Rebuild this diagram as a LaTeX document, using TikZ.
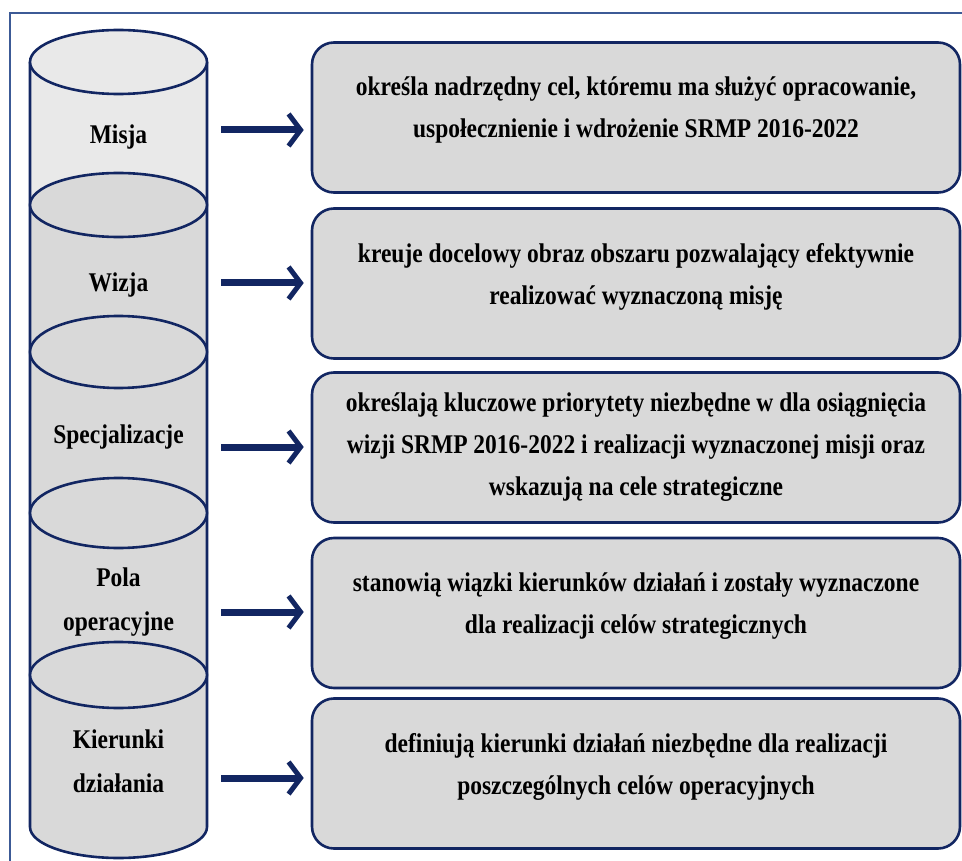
\documentclass[tikz,border=0pt]{standalone}
\usepackage{fontspec}
\setmainfont{Liberation Serif}
\newfontfamily\waski[FakeStretch=0.87]{Liberation Serif}
\usetikzlibrary{arrows.meta}
\definecolor{granat}{RGB}{18,38,98}
\definecolor{ramka}{RGB}{60,90,150}
\definecolor{jasny}{RGB}{233,233,233}
\definecolor{szary}{RGB}{217,217,217}
\tikzset{
	linia/.style={draw=granat, line width=2.6pt},
	opis/.style={linia, fill=szary, rounded corners=22pt, minimum width=648pt, minimum height=150pt, align=center, font=\waski\fontsize{27}{42}\selectfont\bfseries},
	wyzej/.style={text depth=20pt},
	etykieta/.style={align=center, font=\waski\fontsize{27}{44}\selectfont\bfseries},
	strzalka/.style={draw=granat, line width=7pt, -{Straight Barb[length=12pt, width=32pt, line width=5pt]}, shorten >=7pt},
}
\begin{document}
\begin{tikzpicture}[x=1pt,y=-1pt]
				\useasboundingbox (0,0) rectangle (962,861);
				\draw [ramka, line width=1.8pt] (10,861)-- (10,13)-- (962,13);
				% walec
				\fill [jasny] (30,62) rectangle (207,205);
				\fill [szary] (30,205) rectangle (207,827);
				\fill [szary] (30,827) arc [start angle=180, end angle=0, x radius=88.5, y radius=31];
				\draw [linia] (30,62)-- (30,827) arc [start angle=180, end angle=0, x radius=88.5, y radius=31] -- (207,62);
				\draw [linia, fill=jasny] (118.5,62) ellipse [x radius=88.5, y radius=32];
				\foreach \y/\r in {205/32, 352/36, 513/35, 675/33}
					\draw [linia, fill=szary] (118.5,\y) ellipse [x radius=88.5, y radius=\r];
				\node [etykieta] (misja) at (118.5,137) {Misja};
				\node [etykieta] (wizja) at (118.5,285) {Wizja};
				\node [etykieta] (spec) at (118.5,437) {Specjalizacje};
				\node [etykieta] (pola) at (118.5,602) {Pola\\operacyjne};
				\node [etykieta] (kier) at (118.5,761) {Kierunki\\działania};
				% opisy
				\node [opis, wyzej] (o1) at (636,117.5) {określa nadrzędny cel, któremu ma służyć opracowanie,\\uspołecznienie i wdrożenie SRMP 2016-2022};
				\node [opis, wyzej] (o2) at (636,283.5) {kreuje docelowy obraz obszaru pozwalający efektywnie\\realizować wyznaczoną misję};
				\node [opis] (o3) at (636,447.5) {określają kluczowe priorytety niezbędne w dla osiągnięcia\\wizji SRMP 2016-2022 i realizacji wyznaczonej misji oraz\\wskazują na cele strategiczne};
				\node [opis, wyzej] (o4) at (636,613) {stanowią wiązki kierunków działań i zostały wyznaczone\\dla realizacji celów strategicznych};
				\node [opis, wyzej] (o5) at (636,773.5) {definiują kierunki działań niezbędne dla realizacji\\poszczególnych celów operacyjnych};
				% strzalki
				\coordinate (s1) at (221,130);
				\coordinate (s2) at (221,283);
				\coordinate (s3) at (221,447);
				\coordinate (s4) at (221,612);
				\coordinate (s5) at (221,778);
				\foreach \i in {1,...,5}
					\draw [strzalka] (s\i)-- (s\i -| o\i.west);
			\end{tikzpicture}
\end{document}
